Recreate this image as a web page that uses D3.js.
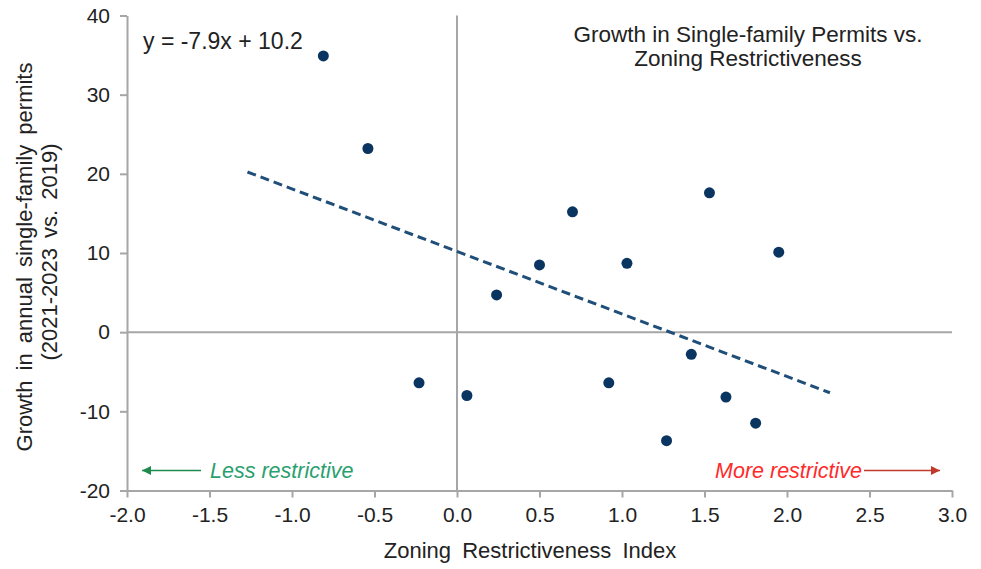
<!DOCTYPE html>
<html>
<head>
<meta charset="utf-8">
<script src="https://cdn.jsdelivr.net/npm/d3@7/dist/d3.min.js"></script>
<style>
  html, body { margin: 0; padding: 0; background: #fff; }
  svg { display: block; font-family: "Liberation Sans", Arial, sans-serif; }
</style>
</head>
<body>
<svg id="chart" width="981" height="569"></svg>
<script>
// ---- data ----
const zoningIndex = [-0.81, -0.54, -0.23, 0.06, 0.24, 0.50, 0.70, 0.92, 1.03, 1.27, 1.42, 1.53, 1.63, 1.81, 1.95];
const permitGrowth = [34.9, 23.2, -6.4, -8.0, 4.7, 8.5, 15.2, -6.4, 8.7, -13.7, -2.8, 17.6, -8.2, -11.5, 10.1];
const trendSlope = -7.9;
const trendIntercept = 10.2;
const trendRange = [-1.27, 2.26];
const xTicks = [-2.0, -1.5, -1.0, -0.5, 0.0, 0.5, 1.0, 1.5, 2.0, 2.5, 3.0];
const yTicks = [-20, -10, 0, 10, 20, 30, 40];

const svg = d3.select("#chart");
const x = d3.scaleLinear().domain([-2, 3]).range([127, 952]);
const y = d3.scaleLinear().domain([-20, 40]).range([490.5, 15.5]);

const axisColor = "#a6a6a6";
const textColor = "#222";

// zero lines
svg.append("line")
  .attr("x1", x(0)).attr("x2", x(0)).attr("y1", y(40)).attr("y2", y(-20))
  .attr("stroke", axisColor).attr("stroke-width", 2);
svg.append("line")
  .attr("x1", x(-2)).attr("x2", x(3)).attr("y1", y(0)).attr("y2", y(0))
  .attr("stroke", axisColor).attr("stroke-width", 2);

// axes
const xAxis = svg.append("g")
  .attr("transform", `translate(0,${y(-20)})`)
  .call(d3.axisBottom(x).tickValues(xTicks).tickFormat(d3.format(".1f")).tickSizeInner(7).tickSizeOuter(0).tickPadding(10));
const yAxis = svg.append("g")
  .attr("transform", `translate(${x(-2)},0)`)
  .call(d3.axisLeft(y).tickValues(yTicks).tickFormat(d3.format("d")).tickSizeInner(7).tickSizeOuter(0).tickPadding(10));

[xAxis, yAxis].forEach(g => {
  g.selectAll(".domain").attr("stroke", axisColor).attr("stroke-width", 2);
  g.selectAll(".tick line").attr("stroke", axisColor).attr("stroke-width", 2);
  g.selectAll(".tick text").attr("fill", textColor).style("font-size", "21px")
    .style("font-family", "'Liberation Sans', Arial, sans-serif");
});
xAxis.selectAll(".tick text").text(d => d3.format(".1f")(d).replace("−", "-"));
yAxis.selectAll(".tick text").text(d => String(d));

// trend line
svg.append("line")
  .attr("x1", x(trendRange[0])).attr("y1", y(trendSlope * trendRange[0] + trendIntercept))
  .attr("x2", x(trendRange[1])).attr("y2", y(trendSlope * trendRange[1] + trendIntercept))
  .attr("stroke", "#1f4e79").attr("stroke-width", 3).attr("stroke-dasharray", "9,5");

// points
svg.append("g").selectAll("circle")
  .data(zoningIndex.map((v, i) => [v, permitGrowth[i]]))
  .join("circle")
  .attr("cx", d => x(d[0])).attr("cy", d => y(d[1])).attr("r", 5.5)
  .attr("fill", "#0b3561");

// equation
svg.append("text").attr("x", 143).attr("y", 49)
  .attr("fill", textColor).style("font-size", "23px")
  .text("y = -7.9x + 10.2");

// title
const title = svg.append("text").attr("text-anchor", "middle").attr("fill", textColor).style("font-size", "22.5px");
title.append("tspan").attr("x", 748).attr("y", 42).text("Growth in Single-family Permits vs.");
title.append("tspan").attr("x", 748).attr("y", 66).text("Zoning Restrictiveness");

// axis titles
svg.append("text").attr("x", 530).attr("y", 558).attr("text-anchor", "middle")
  .attr("fill", textColor).style("font-size", "22px").style("word-spacing", "5px")
  .text("Zoning Restrictiveness Index");

const yt = svg.append("text").attr("transform", "rotate(-90)")
  .attr("text-anchor", "middle").attr("fill", textColor).style("font-size", "22px").style("word-spacing", "4px");
yt.append("tspan").attr("x", -257).attr("y", 32).text("Growth in annual single-family permits");
yt.append("tspan").attr("x", -252).attr("y", 57).text("(2021-2023 vs. 2019)");

// direction annotations
const defs = svg.append("defs");
function marker(id, color) {
  defs.append("marker").attr("id", id).attr("viewBox", "0 0 10 10")
    .attr("refX", 10).attr("refY", 5).attr("markerWidth", 12).attr("markerHeight", 9)
    .attr("markerUnits", "userSpaceOnUse").attr("orient", "auto")
    .append("path").attr("d", "M0,0 L10,5 L0,10 Z").attr("fill", color);
}
marker("arrowGreen", "#1e8a4c");
marker("arrowRed", "#c0392b");

const annY = 470.5;
svg.append("line").attr("x1", 201).attr("x2", 142).attr("y1", annY).attr("y2", annY)
  .attr("stroke", "#1e8a4c").attr("stroke-width", 1.5).attr("marker-end", "url(#arrowGreen)");
svg.append("text").attr("x", 210).attr("y", annY + 7).attr("fill", "#2aa070")
  .style("font-size", "21.5px").style("font-style", "italic").text("Less restrictive");

svg.append("text").attr("x", 862).attr("y", annY + 7).attr("text-anchor", "end").attr("fill", "#ff2b2b")
  .style("font-size", "21.5px").style("font-style", "italic").text("More restrictive");
svg.append("line").attr("x1", 864).attr("x2", 940).attr("y1", annY).attr("y2", annY)
  .attr("stroke", "#c0392b").attr("stroke-width", 1.5).attr("marker-end", "url(#arrowRed)");
</script>
</body>
</html>
